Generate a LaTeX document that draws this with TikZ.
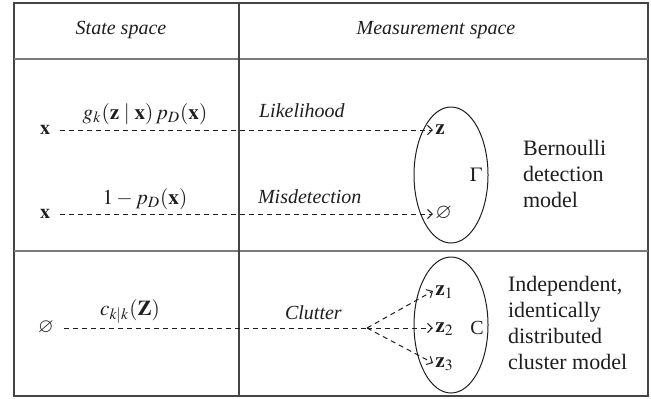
\documentclass[tikz,border=0pt]{standalone}
\usepackage{mathptmx}
\usepackage{amssymb}
\usepackage{fontspec}
\setmainfont{Liberation Serif}
\usetikzlibrary{arrows.meta,shapes.geometric}
\definecolor{msframe}{HTML}{444444}
\definecolor{msrule}{HTML}{7A7A7A}
\definecolor{msink}{HTML}{1E1E1E}

\begin{document}
\begin{tikzpicture}[x=0.5pt, y=-0.5pt, text=msink,
  tabframe/.style={line width=1pt, draw=msframe},
  tabrule/.style={line width=1pt, draw=msrule},
  src/.style={inner sep=2pt, text height=1ex, text depth=0pt},
  tgt/.style={anchor=west, inner sep=1pt, text height=1ex, text depth=0pt,
              font=\fontsize{10.6}{12}\selectfont},
  lbl/.style={anchor=base, font=\fontsize{10.6}{12}\selectfont},
  note/.style={anchor=west, align=left, font=\fontsize{11}{13}\selectfont},
  setov/.style={ellipse, draw=msink, line width=0.5pt, inner sep=0pt,
                minimum width=37pt, minimum height=68pt},
  lnk/.style={dash pattern=on 2.5pt off 2pt, line width=0.5pt, draw=msink,
              shorten <=3pt},
  ar/.style={lnk, -{Straight Barb[length=2.4pt, width=4.6pt]}}]
\useasboundingbox (0,0) rectangle (651,398);

% ---- table ----------------------------------------------------------
\draw[tabframe] (13.5,2.5) rectangle (648,395.5);
\draw[tabrule] (13.5,59) -- (648,59);
\draw[tabrule] (13.5,251) -- (648,251);
\draw[tabframe] (239,2.5) -- (239,395.5);

\node[font=\itshape] (hstate) at (121,30) {State space};
\node[font=\itshape] (hmeas) at (436,30) {Measurement space};

% ---- Bernoulli detection --------------------------------------------
\node[setov] (gam) at (451,175) {};
\node (gamlbl) at (476,175) {$\Gamma$};

\node[src] (xa) at (45,130) {$\mathbf{x}$};
\node[tgt] (za) at (433,130) {$\mathbf{z}$};
\draw[ar] (xa) -- (za);
\node[lbl] (lga) at (145,119)
     {$g_k(\mathbf{z}\mid\mathbf{x})\,p_D(\mathbf{x})$};
\node[anchor=base west, font=\itshape] (lka) at (252,117) {Likelihood};

\node[src] (xb) at (45,214) {$\mathbf{x}$};
\node[tgt] (eb) at (433,214) {$\varnothing$};
\draw[ar] (xb) -- (eb);
\node[lbl] (lgb) at (145,204) {$1-p_D(\mathbf{x})$};
\node[anchor=base west, font=\itshape] (lkb) at (251,203) {Misdetection};

\node[note] (bern) at (516,174) {Bernoulli\\detection\\model};

% ---- clutter --------------------------------------------------------
\node[setov] (cset) at (451,325) {};
\node (clbl) at (477,328) {C};

\node[src] (e0) at (46,328) {$\varnothing$};
\coordinate (split) at (367,328);
\foreach \n/\y in {1/291, 2/328, 3/363}
  \node[tgt] (zc\n) at (433,\y) {$\mathbf{z}_\n$};
\draw[lnk] (e0) -- (split);
\foreach \n in {1,2,3}
  \draw[ar, shorten <=0pt] (split) -- (zc\n.west);
\node[lbl] (lgc) at (130,315) {$c_{k|k}(\mathbf{Z})$};
\node[anchor=base west, font=\itshape] (lkc) at (278,319) {Clutter};

\node[note] (iid) at (501,323)
     {Independent,\\identically\\distributed\\cluster model};
\end{tikzpicture}
\end{document}
